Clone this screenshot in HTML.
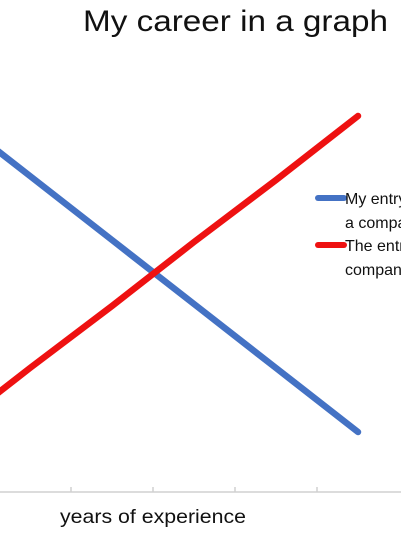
<!DOCTYPE html>
<html><head><meta charset="utf-8"><style>
html,body{margin:0;padding:0;background:#fff;width:401px;height:535px;overflow:hidden}
svg{display:block;font-family:"Liberation Sans",sans-serif}
</style></head><body>
<svg id="c" width="401" height="535">
<text x="83" y="31" font-size="30" textLength="305" lengthAdjust="spacingAndGlyphs" fill="#111">My career in a graph</text>
<line x1="0" y1="492" x2="401" y2="492" stroke="#d0d0d0" stroke-width="1.5"/>
<g id="ticks"></g>
<g id="series"></g>
<text x="60" y="523" font-size="19" textLength="186" lengthAdjust="spacingAndGlyphs" fill="#111">years of experience</text>
<g>
<line x1="318" y1="198" x2="344" y2="198" stroke="#4472c4" stroke-width="6" stroke-linecap="round"/>
<text x="345" y="204" font-size="16" fill="#111">My entry into</text>
<text x="345" y="228" font-size="16" fill="#111">a company</text>
<line x1="318" y1="245" x2="344" y2="245" stroke="#ee1111" stroke-width="6" stroke-linecap="round"/>
<text x="345" y="251" font-size="16" fill="#111">The entry of</text>
<text x="345" y="275" font-size="16" fill="#111">company</text>
</g>
</svg>
<script>
const categories=[1,2,3,4,5,6];
const blueValues=[95,79,63,47,31,15];
const redValues=[15,31,46.5,62.5,78,94];
const tickCats=[1.5,2.5,3.5,4.5,5.5];
const NS="http://www.w3.org/2000/svg";
function xScale(c){return -52+82*(c-1);}
function yScale(v){return 492-4*v;}
const tg=document.getElementById('ticks');
tickCats.forEach(function(t){
  const l=document.createElementNS(NS,'line');
  l.setAttribute('x1',xScale(t));l.setAttribute('x2',xScale(t));
  l.setAttribute('y1',487);l.setAttribute('y2',492);
  l.setAttribute('stroke','#d0d0d0');l.setAttribute('stroke-width','1.5');
  
  
  tg.appendChild(l);
});
const sg=document.getElementById('series');
function drawSeries(vals,color,name){
  const p=document.createElementNS(NS,'polyline');
  p.setAttribute('points',vals.map(function(v,i){return xScale(categories[i])+','+yScale(v);}).join(' '));
  p.setAttribute('fill','none');p.setAttribute('stroke',color);
  p.setAttribute('stroke-width','6.5');p.setAttribute('stroke-linecap','round');p.setAttribute('stroke-linejoin','round');
  
  
  sg.appendChild(p);
}
drawSeries(blueValues,'#4472c4','blue-series-line');
drawSeries(redValues,'#ee1111','red-series-line');
</script>
</body></html>
